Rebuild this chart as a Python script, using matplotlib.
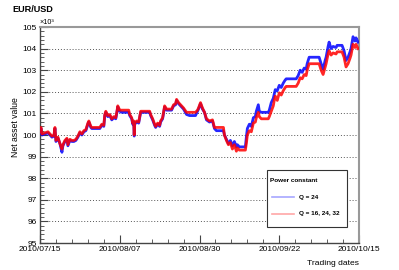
import matplotlib
matplotlib.use('Agg')
import matplotlib.pyplot as plt
from matplotlib.lines import Line2D
from matplotlib.patches import Rectangle
from matplotlib.ticker import MultipleLocator

plt.rcParams['font.family'] = ['Liberation Sans', 'DejaVu Sans']

# ── Data (net asset value, x10^3) ─────────────────────────────────────────────
DATE_LABELS = ['2010/07/15', '2010/08/07', '2010/08/30', '2010/09/22', '2010/10/15']
DATE_TICKS = [0, 23, 46, 69, 92]          # days after 2010/07/15

DAYS = [
    0.0, 0.29, 0.58, 1.44, 2.3, 2.88, 3.45, 4.03, 4.31, 4.6,
    5.18, 5.75, 6.33, 6.61, 7.19, 7.76, 8.05, 8.63, 9.2, 9.78,
    10.35, 10.93, 11.5, 12.08, 12.65, 13.23, 13.8, 14.09, 14.66, 14.95,
    17.25, 17.83, 18.4, 18.69, 18.98, 19.55, 20.13, 20.7, 21.28, 21.85,
    22.14, 22.43, 23.0, 23.58, 25.59, 25.88, 26.45, 26.74, 27.03, 27.17,
    27.31, 27.89, 28.46, 29.04, 31.63, 31.91, 32.49, 33.06, 33.35, 33.93,
    34.5, 34.79, 35.36, 35.94, 36.51, 37.95, 38.53, 39.1, 39.39, 39.96,
    40.54, 41.4, 42.26, 43.13, 44.85, 45.43, 45.71, 46.29, 46.86, 47.44,
    48.01, 48.88, 49.74, 50.31, 50.89, 52.9, 53.19, 53.76, 54.34, 54.91,
    55.49, 56.06, 56.64, 56.93, 57.5, 59.23, 59.51, 59.8, 60.38, 60.95,
    61.53, 62.1, 62.39, 62.96, 63.25, 63.83, 65.84, 66.13, 66.7, 67.28,
    67.56, 67.85, 68.43, 69.0, 69.58, 70.15, 70.73, 71.01, 73.89, 74.46,
    75.04, 75.61, 76.19, 76.76, 77.05, 77.63, 80.5, 81.08, 81.65, 82.23,
    82.51, 83.09, 83.38, 83.95, 84.53, 85.39, 85.68, 87.11, 87.69, 88.26,
    88.84, 89.41, 89.7, 90.28, 90.85, 91.14, 91.71,
]

NAV_Q24 = [
    100.1, 100.3, 100.0, 100.05, 100.1, 100.0, 99.9, 99.95, 100.3, 99.7,
    99.85, 99.6, 99.2, 99.5, 99.7, 99.8, 99.5, 99.75, 99.7, 99.7,
    99.75, 99.9, 100.1, 100.0, 100.15, 100.2, 100.5, 100.6, 100.35, 100.3,
    100.3, 100.45, 100.4, 100.9, 101.05, 100.85, 100.9, 100.7, 100.8, 100.75,
    101.0, 101.3, 101.1, 101.05, 101.05, 100.9, 100.75, 100.5, 100.6, 99.95,
    100.5, 100.6, 100.55, 101.05, 101.05, 100.9, 100.7, 100.45, 100.35, 100.5,
    100.4, 100.6, 100.75, 101.3, 101.15, 101.15, 101.35, 101.4, 101.6, 101.45,
    101.35, 101.2, 100.95, 100.9, 100.9, 101.1, 101.2, 101.45, 101.2, 101.05,
    100.7, 100.6, 100.65, 100.3, 100.2, 100.2, 100.0, 99.8, 99.6, 99.75,
    99.5, 99.7, 99.45, 99.55, 99.45, 99.45, 99.9, 100.3, 100.5, 100.4,
    100.8, 100.85, 101.1, 101.4, 101.1, 101.05, 101.05, 101.15, 101.5, 101.7,
    101.9, 102.1, 102.05, 102.3, 102.2, 102.4, 102.55, 102.6, 102.6, 102.75,
    103.0, 102.9, 103.1, 103.05, 103.3, 103.6, 103.6, 103.3, 103.05, 103.45,
    103.6, 104.1, 104.3, 104.0, 104.1, 104.05, 104.15, 104.15, 103.9, 103.45,
    103.6, 103.85, 104.0, 104.55, 104.35, 104.5, 104.3,
]

NAV_Q_MULTI = [
    100.15, 100.35, 100.05, 100.1, 100.15, 100.05, 99.95, 100.0, 100.35, 99.75,
    99.9, 99.6, 99.35, 99.55, 99.75, 99.85, 99.55, 99.8, 99.75, 99.75,
    99.8, 99.95, 100.15, 100.05, 100.2, 100.25, 100.55, 100.65, 100.4, 100.35,
    100.35, 100.5, 100.45, 100.95, 101.1, 100.9, 100.95, 100.75, 100.85, 100.8,
    101.05, 101.35, 101.15, 101.15, 101.15, 100.95, 100.8, 100.55, 100.65, 100.0,
    100.55, 100.65, 100.6, 101.1, 101.1, 100.95, 100.75, 100.5, 100.4, 100.55,
    100.45, 100.65, 100.8, 101.35, 101.2, 101.2, 101.4, 101.45, 101.65, 101.5,
    101.4, 101.25, 101.05, 101.05, 101.05, 101.15, 101.25, 101.5, 101.25, 101.05,
    100.75, 100.65, 100.7, 100.35, 100.35, 100.35, 100.0, 99.75, 99.55, 99.65,
    99.35, 99.55, 99.25, 99.4, 99.3, 99.3, 99.6, 100.0, 100.2, 100.15,
    100.55, 100.6, 100.8, 101.05, 100.85, 100.75, 100.75, 100.85, 101.1, 101.35,
    101.6, 101.8, 101.6, 101.95, 101.85, 102.05, 102.2, 102.25, 102.25, 102.4,
    102.65, 102.6, 102.8, 102.75, 103.0, 103.3, 103.3, 103.0, 102.8, 103.15,
    103.3, 103.75, 103.9, 103.7, 103.8, 103.75, 103.85, 103.85, 103.6, 103.15,
    103.3, 103.55, 103.7, 104.2, 104.05, 104.2, 104.0,
]

# ── Figure ────────────────────────────────────────────────────────────────────
fig = plt.figure(figsize=(3.99, 2.70), dpi=100)
ax = fig.add_axes([40/399, 27/270, 319/399, 216/270])

ax.plot(DAYS, NAV_Q24, color='#0000ff', lw=2.0, alpha=0.85, zorder=3)
ax.plot(DAYS, NAV_Q_MULTI, color='#ff0000', lw=2.0, alpha=0.85, zorder=4)

ax.set_xlim(0, 92)
ax.set_ylim(95, 105)
ax.set_xticks(DATE_TICKS)
ax.set_xticklabels(DATE_LABELS)
ax.xaxis.set_minor_locator(MultipleLocator(23 / 5))
ax.yaxis.set_major_locator(MultipleLocator(1))
ax.yaxis.set_minor_locator(MultipleLocator(0.2))
ax.tick_params(which='major', direction='in', length=6, width=0.8,
               color='#444444', labelsize=6, pad=2.5)
ax.tick_params(which='minor', direction='in', length=3, width=0.6, color='#444444')
ax.grid(axis='y', which='major', color='#555555', linestyle=(0, (1, 2)), lw=0.7)

for s in ['left', 'bottom']:
    ax.spines[s].set_color('#444444')
    ax.spines[s].set_linewidth(1.0)
for s in ['top', 'right']:
    ax.spines[s].set_color('#999999')
    ax.spines[s].set_linewidth(1.5)

ax.set_ylabel('Net asset value', fontsize=6.2)
ax.yaxis.set_label_coords(-0.062, 0.537)
ax.set_xlabel('Trading dates', fontsize=6.1, ha='right')
ax.xaxis.set_label_coords(1.0, -0.08)

ax.text(0.0, 1.005, '×10³', transform=ax.transAxes, fontsize=5.2,
        ha='left', va='bottom')
fig.text(12/399, 1 - 12/270, 'EUR/USD', fontsize=6.6, fontweight='bold',
         ha='left', va='baseline')

# ── Legend (ROOT-style box) ───────────────────────────────────────────────────
lx0, lx1 = (267 - 40) / 319, (347 - 40) / 319
ly0, ly1 = (243 - 227) / 216, (243 - 170) / 216
ax.add_patch(Rectangle((lx0, ly0), lx1 - lx0, ly1 - ly0, transform=ax.transAxes,
                       facecolor='white', edgecolor='#333333', lw=0.8, zorder=10))
ax.text((270 - 40) / 319, (243 - 180) / 216, 'Power constant', transform=ax.transAxes,
        fontsize=4.6, fontweight='bold', ha='left', va='center', zorder=11)
for yy, col, lab in [(197, '#0000ff', 'Q = 24'), (214, '#ff0000', 'Q = 16, 24, 32')]:
    ax.add_line(Line2D([(272 - 40) / 319, (294 - 40) / 319],
                       [(243 - yy) / 216] * 2, transform=ax.transAxes,
                       color=col, alpha=0.35, lw=1.2, zorder=11))
    ax.text((299 - 40) / 319, (243 - yy) / 216, lab, transform=ax.transAxes,
            fontsize=4.6, fontweight='bold', ha='left', va='center', zorder=11)

fig.savefig('out.png', dpi=100)
